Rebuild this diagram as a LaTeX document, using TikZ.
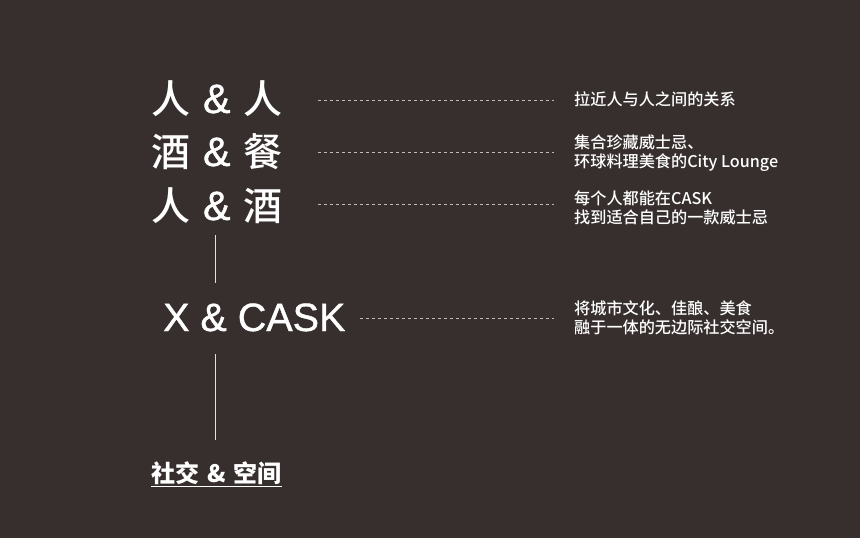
\documentclass[tikz,border=0pt]{standalone}
\usepackage{fontspec}
\setmainfont{Noto Sans CJK SC}[UprightFont={* Medium},BoldFont={* Black}]
\newfontfamily\latinfont{Liberation Sans}[FakeBold=1]
\newcommand{\amp}{\hspace{1.5pt}{\latinfont\fontsize{41}{41}\selectfont\ \&\ }\hspace{1.5pt}}
\definecolor{bgdark}{HTML}{362F2D}
\definecolor{dashgray}{HTML}{BDBAB8}
\tikzset{
	bigtext/.style={anchor=west,inner sep=0pt,text=white,font=\fontsize{39}{39}\selectfont,text height=32pt,text depth=6pt},
	desctext/.style={anchor=west,inner sep=0pt,text=white,align=left,font=\fontsize{16.15}{19}\selectfont},
	dashline/.style={draw=dashgray,line width=1pt,dash pattern=on 3pt off 3pt},
	solidline/.style={draw=white!85!bgdark,line width=1.3pt}
}
\begin{document}
\begin{tikzpicture}[x=1pt,y=-1pt]
	\fill[bgdark] (0,0) rectangle (860,538);
	\node[bigtext] (rowa) at (151,100) {人\amp 人};
	\node[bigtext] (rowb) at (151,153) {酒\amp 餐};
	\node[bigtext] (rowc) at (151,207) {人\amp 酒};
	\node[bigtext,font=\latinfont\fontsize{39.5}{39.5}\selectfont] (xcask) at (163,318) {X \& CASK};
	\node[anchor=west,inner sep=0pt,text=white,font=\fontsize{24}{24}\bfseries\selectfont] (social) at (151,474) {\underline{社交\hspace{2.5pt} \& \hspace{2.5pt}空间}};
	\node[desctext] (desca) at (574,99) {拉近人与人之间的关系};
	\node[desctext] (descb) at (574,153.5) {集合珍藏威士忌、\\环球料理美食的City Lounge};
	\node[desctext] (descc) at (574,208) {每个人都能在CASK\\找到适合自己的一款威士忌};
	\node[desctext] (descd) at (574,318) {将城市文化、佳酿、美食\\融于一体的无边际社交空间。};
	\draw[dashline,shorten >=20pt,shorten <=35pt] (rowa.east) -- (rowa.east -| desca.west);
	\draw[dashline,shorten >=20pt,shorten <=35pt] ([yshift=1pt]rowb.east) -- ([yshift=1pt]rowb.east -| descb.west);
	\draw[dashline,shorten >=20pt,shorten <=35pt] ([yshift=3pt]rowc.east) -- ([yshift=3pt]rowc.east -| descc.west);
	\draw[dashline,shorten >=20pt,shorten <=14pt] (xcask.east) -- (xcask.east -| descd.west);
	\draw[solidline] (215.5,235) -- (215.5,283);
	\draw[solidline] (215.5,354) -- (215.5,440);
\end{tikzpicture}
\end{document}
